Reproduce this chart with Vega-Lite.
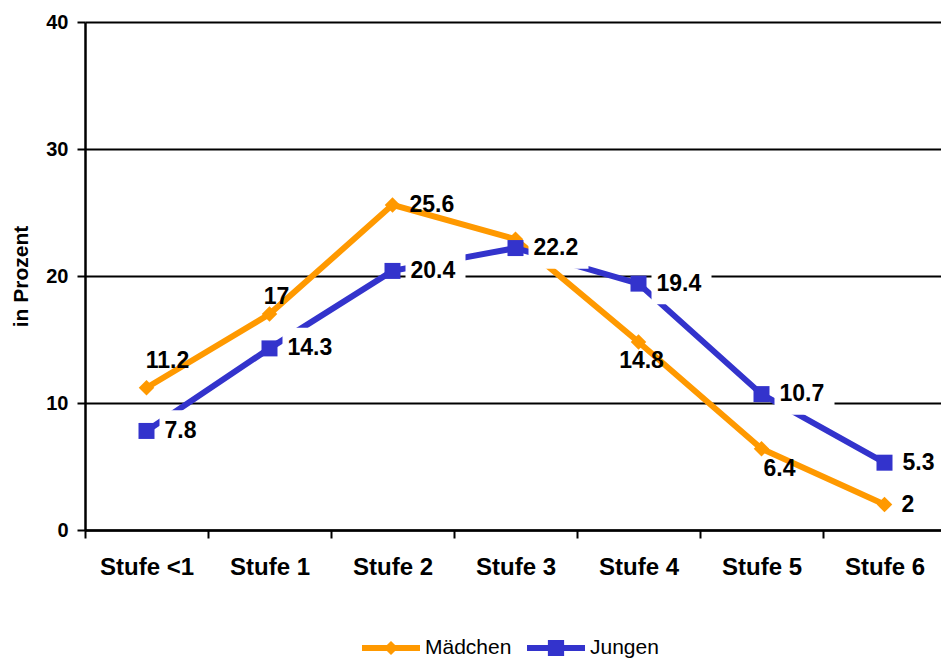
{
  "$schema": "https://vega.github.io/schema/vega-lite/v6.json",
  "width": 861,
  "height": 508,
  "autosize": {"type": "none"},
  "padding": {"left": 85, "top": 22, "right": 0, "bottom": 130},
  "background": "white",
  "config": {
    "font": "Liberation Sans",
    "view": {"stroke": null}
  },
  "data": {
    "values": [
      {"stufe": "Stufe <1", "gruppe": "Mädchen", "wert": 11.2},
      {"stufe": "Stufe 1", "gruppe": "Mädchen", "wert": 17},
      {"stufe": "Stufe 2", "gruppe": "Mädchen", "wert": 25.6},
      {"stufe": "Stufe 3", "gruppe": "Mädchen", "wert": 22.9},
      {"stufe": "Stufe 4", "gruppe": "Mädchen", "wert": 14.8},
      {"stufe": "Stufe 5", "gruppe": "Mädchen", "wert": 6.4},
      {"stufe": "Stufe 6", "gruppe": "Mädchen", "wert": 2},
      {"stufe": "Stufe <1", "gruppe": "Jungen", "wert": 7.8},
      {"stufe": "Stufe 1", "gruppe": "Jungen", "wert": 14.3},
      {"stufe": "Stufe 2", "gruppe": "Jungen", "wert": 20.4},
      {"stufe": "Stufe 3", "gruppe": "Jungen", "wert": 22.2},
      {"stufe": "Stufe 4", "gruppe": "Jungen", "wert": 19.4},
      {"stufe": "Stufe 5", "gruppe": "Jungen", "wert": 10.7},
      {"stufe": "Stufe 6", "gruppe": "Jungen", "wert": 5.3}
    ]
  },
  "encoding": {
    "x": {
      "field": "stufe",
      "type": "nominal",
      "sort": ["Stufe <1", "Stufe 1", "Stufe 2", "Stufe 3", "Stufe 4", "Stufe 5", "Stufe 6"],
      "scale": {"type": "band", "paddingInner": 0, "paddingOuter": 0},
      "axis": {
        "title": null,
        "labelAngle": 0,
        "labelFont": "Liberation Sans",
        "labelFontSize": 24,
        "labelFontWeight": "bold",
        "labelColor": "black",
        "labelPadding": 17,
        "tickBand": "extent",
        "tickSize": 8,
        "tickWidth": 2,
        "tickColor": "black",
        "domainColor": "black",
        "domainWidth": 2.5,
        "grid": false
      }
    },
    "y": {
      "field": "wert",
      "type": "quantitative",
      "scale": {"domain": [0, 40], "nice": false, "zero": true},
      "axis": {
        "title": "in Prozent",
        "titleFont": "Liberation Sans",
        "titleFontSize": 21,
        "titleFontWeight": "bold",
        "titleColor": "black",
        "titlePadding": 14,
        "values": [0, 10, 20, 30, 40],
        "labelFont": "Liberation Sans",
        "labelFontSize": 20,
        "labelFontWeight": "bold",
        "labelColor": "black",
        "labelPadding": 9,
        "tickSize": 8,
        "tickWidth": 2,
        "tickColor": "black",
        "domainColor": "black",
        "domainWidth": 2.5,
        "grid": true,
        "gridColor": "black",
        "gridWidth": 2,
        "gridOpacity": 1
      }
    },
    "color": {
      "field": "gruppe",
      "type": "nominal",
      "scale": {"domain": ["Mädchen", "Jungen"], "range": ["#FF9900", "#3333CC"]},
      "legend": {
        "title": null,
        "orient": "none",
        "direction": "horizontal",
        "legendX": 277,
        "legendY": 597,
        "symbolSize": 3364,
        "labelFont": "Liberation Sans",
        "labelFontSize": 21,
        "labelColor": "black",
        "labelOffset": 5,
        "columnPadding": 15,
        "encode": {
          "symbols": {
            "update": {
              "shape": {"signal": "datum.value === 'Mädchen' ? 'M-1,-0.1 L-0.14,-0.1 L0,-0.24 L0.14,-0.1 L1,-0.1 L1,0.1 L0.14,0.1 L0,0.24 L-0.14,0.1 L-1,0.1 Z' : 'M-1,-0.1 L-0.28,-0.1 L-0.28,-0.28 L0.28,-0.28 L0.28,-0.1 L1,-0.1 L1,0.1 L0.28,0.1 L0.28,0.28 L-0.28,0.28 L-0.28,0.1 L-1,0.1 Z'"},
              "fill": {"signal": "datum.value === 'Mädchen' ? '#FF9900' : '#3333CC'"},
              "strokeWidth": {"value": 0},
              "opacity": {"value": 1}
            }
          }
        }
      }
    }
  },
  "layer": [
    {
      "transform": [{"filter": "datum.gruppe === 'Mädchen'"}],
      "mark": {"type": "line", "strokeWidth": 6}
    },
    {
      "transform": [{"filter": "datum.gruppe === 'Jungen'"}],
      "mark": {"type": "line", "strokeWidth": 6}
    },
    {
      "transform": [{"filter": "datum.gruppe === 'Mädchen'"}],
      "mark": {"type": "point", "shape": "diamond", "filled": true, "size": 240, "opacity": 1}
    },
    {
      "transform": [{"filter": "datum.gruppe === 'Jungen'"}],
      "mark": {"type": "point", "shape": "square", "filled": true, "size": 256, "opacity": 1}
    },
    {
      "transform": [{"filter": "datum.gruppe === 'Jungen'"}],
      "mark": {
        "type": "point",
        "shape": "M-1,-0.69 L1,-0.69 L1,0.69 L-1,0.69 Z",
        "filled": true,
        "size": 3600,
        "opacity": 1,
        "xOffset": 43
      },
      "encoding": {"color": {"value": "white"}}
    },
    {
      "transform": [{"filter": "datum.gruppe === 'Jungen'"}],
      "mark": {"type": "text", "align": "left", "baseline": "middle", "dx": 18, "fontSize": 23, "fontWeight": "bold", "font": "Liberation Sans"},
      "encoding": {"text": {"field": "wert", "type": "nominal"}, "color": {"value": "black"}}
    },
    {
      "transform": [{"filter": "datum.gruppe === 'Mädchen' && datum.stufe === 'Stufe <1'"}],
      "mark": {"type": "text", "align": "center", "baseline": "middle", "dx": 21, "dy": -27, "fontSize": 23, "fontWeight": "bold", "font": "Liberation Sans"},
      "encoding": {"text": {"field": "wert", "type": "nominal"}, "color": {"value": "black"}}
    },
    {
      "transform": [{"filter": "datum.gruppe === 'Mädchen' && datum.stufe === 'Stufe 1'"}],
      "mark": {"type": "text", "align": "center", "baseline": "middle", "dx": 7, "dy": -17, "fontSize": 23, "fontWeight": "bold", "font": "Liberation Sans"},
      "encoding": {"text": {"field": "wert", "type": "nominal"}, "color": {"value": "black"}}
    },
    {
      "transform": [{"filter": "datum.gruppe === 'Mädchen' && (datum.stufe === 'Stufe 2' || datum.stufe === 'Stufe 6')"}],
      "mark": {"type": "text", "align": "left", "baseline": "middle", "dx": 17, "fontSize": 23, "fontWeight": "bold", "font": "Liberation Sans"},
      "encoding": {"text": {"field": "wert", "type": "nominal"}, "color": {"value": "black"}}
    },
    {
      "transform": [{"filter": "datum.gruppe === 'Mädchen' && datum.stufe === 'Stufe 4'"}],
      "mark": {"type": "text", "align": "center", "baseline": "middle", "dx": 3, "dy": 19, "fontSize": 23, "fontWeight": "bold", "font": "Liberation Sans"},
      "encoding": {"text": {"field": "wert", "type": "nominal"}, "color": {"value": "black"}}
    },
    {
      "transform": [{"filter": "datum.gruppe === 'Mädchen' && datum.stufe === 'Stufe 5'"}],
      "mark": {"type": "text", "align": "center", "baseline": "middle", "dx": 18, "dy": 20, "fontSize": 23, "fontWeight": "bold", "font": "Liberation Sans"},
      "encoding": {"text": {"field": "wert", "type": "nominal"}, "color": {"value": "black"}}
    }
  ]
}
